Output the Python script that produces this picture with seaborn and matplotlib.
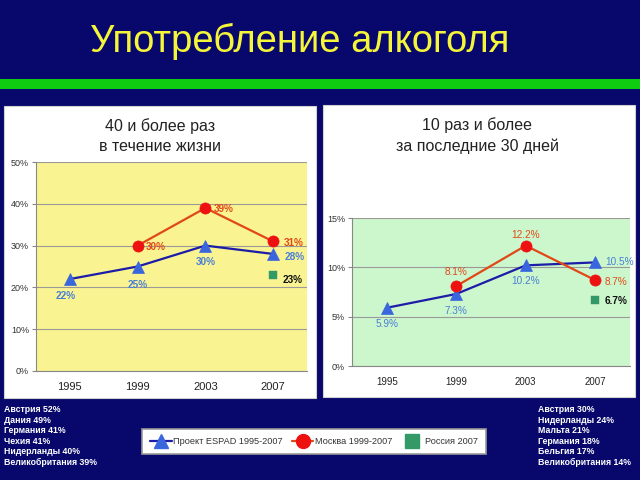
import matplotlib
matplotlib.use("Agg")
import matplotlib.pyplot as plt
import seaborn as sns
import numpy as np
from matplotlib.lines import Line2D
from matplotlib.patches import Rectangle

sns.set_theme(style="white")
plt.rcParams['font.family'] = ['Liberation Sans', 'DejaVu Sans']

# ---- data ----
years = [1995, 1999, 2003, 2007]
year_labels = ["1995", "1999", "2003", "2007"]

life_espad = [22, 25, 30, 28]
life_moscow = [np.nan, 30, 39, 31]
life_russia_2007 = 23

month_espad = [5.9, 7.3, 10.2, 10.5]
month_moscow = [np.nan, 8.1, 12.2, 8.7]
month_russia_2007 = 6.7

title_main = "Употребление алкоголя"
title_left = "40 и более раз\nв течение жизни"
title_right = "10 раз и более\nза последние 30 дней"

left_notes = ["Австрия 52%", "Дания 49%", "Германия 41%", "Чехия 41%",
              "Нидерланды 40%", "Великобритания 39%"]
right_notes = ["Австрия 30%", "Нидерланды 24%", "Мальта 21%", "Германия 18%",
               "Бельгия 17%", "Великобритания 14%"]

legend_labels = ["Проект ESPAD 1995-2007", "Москва 1999-2007", "Россия 2007"]

# ---- style ----
BG = "#08086c"
BLUE_LINE = "#1c1ca8"
BLUE_MK = "#3a66dd"
BLUE_TXT = "#4a7fd6"
RED_LINE = "#e04818"
RED_MK = "#ee1111"
RED_TXT = "#e04a1a"
GREEN = "#339966"

W, H = 640, 480
fig = plt.figure(figsize=(6.4, 4.8), dpi=100, facecolor=BG)

def fx(px):
    return px / W

def fy(py):
    return 1 - py / H

# title
fig.text(fx(300), fy(41), title_main, color="#f5f53a", fontsize=27.5,
         ha="center", va="center")
# green bar
fig.patches.append(Rectangle((0, fy(89)), 1, (89 - 79) / H, transform=fig.transFigure,
                             facecolor="#10cc10", edgecolor="none", zorder=-2))

# white panels
for (x0, y0, x1, y1) in [(4, 106, 316, 398), (323, 105, 635, 397)]:
    fig.patches.append(Rectangle((fx(x0), fy(y1)), (x1 - x0) / W, (y1 - y0) / H,
                                 transform=fig.transFigure, facecolor="white",
                                 edgecolor="#d0d0d0", lw=0.8, zorder=-2))


def make_panel(rect, face, espad, moscow, russia, ymax, ystep, title, title_xy,
               fmt, bold, lab_offsets, xtick_fs):
    ax = fig.add_axes(rect)
    ax.set_facecolor(face)
    sns.lineplot(x=years, y=espad, ax=ax, color=BLUE_LINE, lw=1.6, marker="^",
                 markersize=9, markerfacecolor=BLUE_MK, markeredgecolor=BLUE_MK,
                 markeredgewidth=0.5)
    mx = [y for y, v in zip(years, moscow) if not np.isnan(v)]
    mv = [v for v in moscow if not np.isnan(v)]
    sns.lineplot(x=mx, y=mv, ax=ax, color=RED_LINE, lw=1.6, marker="o",
                 markersize=8, markerfacecolor=RED_MK, markeredgecolor=RED_MK,
                 markeredgewidth=0.5)
    sns.scatterplot(x=[years[-1]], y=[russia], ax=ax, marker="s", s=30,
                    color=GREEN, edgecolor=GREEN, linewidth=0.3, zorder=5)
    ax.set_xlim(1993, 2009)
    ax.set_ylim(0, ymax)
    ax.set_yticks(np.arange(0, ymax + 0.001, ystep))
    ax.set_yticklabels([f"{int(t)}%" for t in np.arange(0, ymax + 0.001, ystep)],
                       fontsize=6.5, color="#333333")
    ax.set_xticks(years)
    ax.set_xticklabels(year_labels, fontsize=xtick_fs, color="#222222")
    ax.set_xticks([1993, 1997, 2001, 2005, 2009], minor=True)
    ax.tick_params(axis="x", which="major", length=0, pad=8)
    ax.tick_params(axis="x", which="minor", length=3, color="#888888", width=0.8,
                   direction="out")
    ax.tick_params(axis="y", length=3, color="#888888", width=0.8, direction="out",
                   pad=2, left=True)
    ax.yaxis.grid(True, color="#9a9a9a", lw=0.8)
    ax.set_axisbelow(True)
    for s in ["top", "right"]:
        ax.spines[s].set_visible(False)
    for s in ["left", "bottom"]:
        ax.spines[s].set_color("#888888")
        ax.spines[s].set_linewidth(0.8)
    ax.set_xlabel("")
    ax.set_ylabel("")
    fig.text(fx(title_xy[0]), fy(title_xy[1]), title, ha="center", va="center",
             fontsize=11.5, color="#222222", linespacing=1.45)
    weight = "bold" if bold else "normal"
    # labels
    for i, (x, v) in enumerate(zip(years, espad)):
        dx, dy, ha = lab_offsets["espad"][i]
        ax.annotate(fmt(v), (x, v), xytext=(dx, dy), textcoords="offset points",
                    ha=ha, va="center", fontsize=7.2, color=BLUE_TXT, fontweight=weight)
    for i, (x, v) in enumerate(zip(years, moscow)):
        if np.isnan(v):
            continue
        dx, dy, ha = lab_offsets["moscow"][i]
        ax.annotate(fmt(v), (x, v), xytext=(dx, dy), textcoords="offset points",
                    ha=ha, va="center", fontsize=7.2, color=RED_TXT, fontweight=weight)
    dx, dy, ha = lab_offsets["russia"]
    ax.annotate(fmt(russia), (years[-1], russia), xytext=(dx, dy),
                textcoords="offset points", ha=ha, va="center", fontsize=7.2,
                color="#111111", fontweight="bold")
    return ax


left_off = {
    "espad": [(-3, -12, "center"), (0, -13, "center"), (0, -12, "center"), (8, -2, "left")],
    "moscow": [None, (6, -1, "left"), (6, -1, "left"), (8, -1, "left")],
    "russia": (7, -4, "left"),
}
right_off = {
    "espad": [(0, -12, "center"), (0, -12, "center"), (0, -11, "center"), (7, 0, "left")],
    "moscow": [None, (0, 10, "center"), (0, 8, "center"), (7, -1, "left")],
    "russia": (7, -1, "left"),
}

make_panel([fx(36), fy(371), (307 - 36) / W, (371 - 162) / H], "#faf391",
           life_espad, life_moscow, life_russia_2007, 50, 10, title_left, (160, 136),
           lambda v: f"{v:.0f}%", True, left_off, 8)
make_panel([fx(352), fy(366), (630 - 352) / W, (366 - 218) / H], "#ccf6cc",
           month_espad, month_moscow, month_russia_2007, 15, 5, title_right, (477, 136),
           lambda v: f"{v:.1f}%", False, right_off, 7)

# side notes
for i, t in enumerate(left_notes):
    fig.text(fx(4), fy(410 + i * 10.4), t, color="white", fontsize=6.3,
             fontweight="bold", ha="left", va="center")
for i, t in enumerate(right_notes):
    fig.text(fx(538), fy(410 + i * 10.4), t, color="white", fontsize=6.3,
             fontweight="bold", ha="left", va="center")

# legend
handles = [
    Line2D([], [], color=BLUE_LINE, lw=1.6, marker="^", markersize=10,
           markerfacecolor=BLUE_MK, markeredgecolor=BLUE_MK),
    Line2D([], [], color=RED_LINE, lw=1.6, marker="o", markersize=10,
           markerfacecolor=RED_MK, markeredgecolor=RED_MK),
    Line2D([], [], color=GREEN, lw=0, marker="s", markersize=10,
           markerfacecolor=GREEN, markeredgecolor=GREEN),
]
leg = fig.legend(handles, legend_labels, loc="center",
                 bbox_to_anchor=(fx(314), fy(441.5)), ncol=3, fontsize=6.6,
                 frameon=True, fancybox=False, edgecolor="#999999",
                 facecolor="white", framealpha=1, handlelength=2.3,
                 columnspacing=1.0, handletextpad=0.2, borderpad=0.9,
                 borderaxespad=0)
leg.get_frame().set_linewidth(1.2)
for t in leg.get_texts():
    t.set_color("#333333")

fig.savefig("out.png", dpi=100, facecolor=BG)
